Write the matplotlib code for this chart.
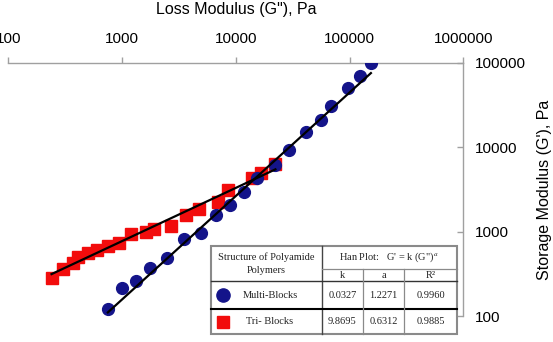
import numpy as np
import matplotlib.pyplot as plt
from matplotlib.ticker import FixedLocator, FuncFormatter, NullLocator
from matplotlib.patches import Rectangle

# Han plot data: loss modulus G'' and storage modulus G' (Pa)
multi_loss = [750, 995, 1330, 1760, 2480, 3500, 4900, 6640, 8900, 11760,
              15500, 22150, 29160, 41440, 56130, 69100, 96830, 122400, 154100]
multi_storage = [121, 212, 260, 370, 481, 821, 965, 1597, 2062, 2955,
                 4295, 6227, 9221, 15016, 21180, 30610, 50390, 70890, 100000]

tri_loss = [240, 300, 372, 406, 503, 608, 749, 941, 1209, 1614,
            1897, 2690, 3622, 4755, 6938, 8508, 13820, 16740, 22290]
tri_storage = [280, 357, 428, 504, 551, 603, 672, 736, 939, 1000,
               1085, 1177, 1597, 1839, 2224, 3162, 4341, 4944, 6310]

# fit table: G' = k (G'')^a
series_names = ['Multi-Blocks', 'Tri- Blocks']
fit_k = ['0.0327', '9.8695']
fit_a = ['1.2271', '0.6312']
fit_r2 = ['0.9960', '0.9885']

x_ticks = [100, 1000, 10000, 100000, 1000000]
y_ticks = [100, 1000, 10000, 100000]

blue = '#14148a'
red = '#f20c0c'
axis_grey = '#a0a0a0'

plt.rcParams['font.family'] = ['Liberation Sans', 'DejaVu Sans']
plt.rcParams['mathtext.fontset'] = 'stix'

fig = plt.figure(figsize=(5.53, 3.42), dpi=100)
ax = fig.add_axes([8.3 / 553, 1 - 316 / 342, 455 / 553, 253 / 342])
ax.set_xscale('log')
ax.set_yscale('log')
ax.set_xlim(x_ticks[0], x_ticks[-1])
ax.set_ylim(y_ticks[0], y_ticks[-1])

ax.plot(multi_loss, multi_storage, 'o', color=blue, ms=8.5, mec=blue, zorder=3)
ax.plot(tri_loss, tri_storage, 's', color=red, ms=8, mec=red, zorder=2)

# power-law fit lines across each data range
for loss, k, a in [(multi_loss, fit_k[0], fit_a[0]), (tri_loss, fit_k[1], fit_a[1])]:
    xx = np.array([min(loss), max(loss)])
    ax.plot(xx, float(k) * xx ** float(a), color='black', lw=1.6, zorder=4)

for s in ['left', 'bottom']:
    ax.spines[s].set_visible(False)
for s in ['top', 'right']:
    ax.spines[s].set_color(axis_grey)
    ax.spines[s].set_linewidth(1)

ax.xaxis.tick_top()
ax.xaxis.set_label_position('top')
ax.yaxis.tick_right()
ax.yaxis.set_label_position('right')
ax.xaxis.set_major_locator(FixedLocator(x_ticks))
ax.yaxis.set_major_locator(FixedLocator(y_ticks))
ax.xaxis.set_minor_locator(NullLocator())
ax.yaxis.set_minor_locator(NullLocator())
fmt = FuncFormatter(lambda v, _: '%d' % v)
ax.xaxis.set_major_formatter(fmt)
ax.yaxis.set_major_formatter(fmt)
ax.tick_params(axis='x', direction='out', length=4, width=1, color=axis_grey,
               labelsize=11, pad=8)
ax.tick_params(axis='y', direction='in', length=4, width=1, color=axis_grey,
               labelsize=11, pad=8)
ax.set_xlabel('Loss Modulus (G"), Pa', fontsize=11.5, labelpad=13)
ax.set_ylabel("Storage Modulus (G'), Pa", fontsize=11.5, labelpad=8)

# table drawn in pixel coordinates on an overlay
tb = fig.add_axes([0, 0, 1, 1], zorder=5)
tb.set_xlim(0, 553)
tb.set_ylim(342, 0)
tb.axis('off')

left, right, top, bottom = 211, 457, 245.5, 334
c1, c2, c3 = 321.7, 363, 404
mid, head, sep = 269, 281, 309
dark = '#222222'
grey = '#8a8a8a'

tb.add_patch(Rectangle((left, top), right - left, bottom - top, facecolor='white',
                       edgecolor=grey, lw=1.5))
tb.plot([c1, c1], [top, bottom], color='#444444', lw=1)
tb.plot([c1, right], [mid, mid], color=grey, lw=0.9)
tb.plot([left, right], [head, head], color='#333333', lw=1)
tb.plot([left, right], [sep, sep], color='black', lw=1.5)
for cx in [c2, c3]:
    tb.plot([cx, cx], [mid, bottom], color=grey, lw=0.9)

tfont = dict(family=['Liberation Serif', 'DejaVu Serif'], fontsize=7.5, color=dark,
             ha='center', va='center')
tb.text((left + c1) / 2, 257, 'Structure of Polyamide', **tfont)
tb.text((left + c1) / 2, 270.5, 'Polymers', **tfont)
tb.text((c1 + right) / 2, 257, "Han Plot:   G' = k (G\")$^{a}$", **tfont)
tb.text((c1 + c2) / 2, 275, 'k', **tfont)
tb.text((c2 + c3) / 2, 275, 'a', **tfont)
tb.text((c3 + right) / 2, 275, 'R\u00b2', **tfont)

row_y = [(head + sep) / 2, (sep + bottom) / 2]
markers = [('o', blue, 9.5), ('s', red, 9)]
for i, name in enumerate(series_names):
    m, col, size = markers[i]
    tb.plot([223], [row_y[i]], m, color=col, mec=col, ms=size)
    tb.text(270, row_y[i], name, **tfont)
    tb.text((c1 + c2) / 2, row_y[i], fit_k[i], **tfont)
    tb.text((c2 + c3) / 2, row_y[i], fit_a[i], **tfont)
    tb.text((c3 + right) / 2, row_y[i], fit_r2[i], **tfont)

fig.savefig('out.png', dpi=100)
